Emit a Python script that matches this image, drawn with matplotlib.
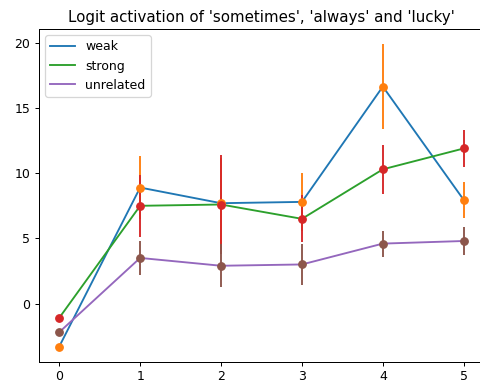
import numpy as np
import matplotlib
matplotlib.use('Agg')
import matplotlib.pyplot as plt

positions = [0, 1, 2, 3, 4, 5]

weak = [-3.3, 8.9, 7.7, 7.8, 16.65, 7.95]
weak_err = [0.0, 2.45, 3.5, 2.2, 3.25, 1.35]

strong = [-1.1, 7.5, 7.6, 6.5, 10.3, 11.9]
strong_err = [0.0, 2.4, 3.8, 1.8, 1.9, 1.4]

unrelated = [-2.2, 3.5, 2.9, 3.0, 4.6, 4.8]
unrelated_err = [0.0, 1.33, 1.65, 1.55, 1.0, 1.1]

fig = plt.figure(figsize=(480 / 90, 381 / 90), dpi=90)
# the right edge of the axes runs just past the canvas, as in the reference crop
ax = fig.add_axes([0.08125, 0.0507, 0.927, 0.873])

# line then its error bars, so the default colour cycle alternates
ax.plot(positions, weak, label='weak')
ax.errorbar(positions, weak, yerr=weak_err, fmt='o')
ax.plot(positions, strong, label='strong')
ax.errorbar(positions, strong, yerr=strong_err, fmt='o')
ax.plot(positions, unrelated, label='unrelated')
ax.errorbar(positions, unrelated, yerr=unrelated_err, fmt='o')

ax.set_title("Logit activation of 'sometimes', 'always' and 'lucky'")
ax.legend(loc='upper left')

plt.savefig('out.png', dpi=90)
